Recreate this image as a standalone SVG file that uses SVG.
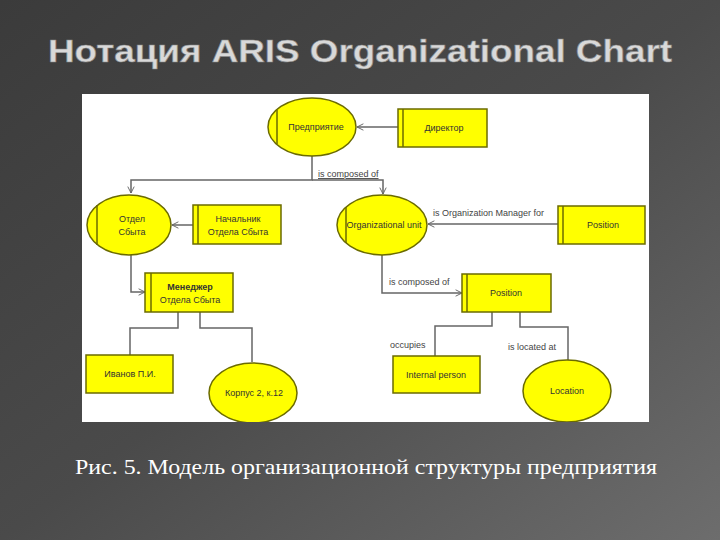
<svg xmlns="http://www.w3.org/2000/svg" width="720" height="540" viewBox="0 0 720 540">
<defs>
<linearGradient id="bg" x1="0" y1="0" x2="1" y2="1"><stop offset="0" stop-color="#3b3b3b"/><stop offset="0.5" stop-color="#4a4a4a"/><stop offset="1" stop-color="#6d6d6d"/></linearGradient>
<marker id="ar" viewBox="0 0 10 10" refX="9" refY="5" markerWidth="8" markerHeight="8" orient="auto-start-reverse" markerUnits="userSpaceOnUse"><path d="M1,1 L9,5 L1,9" fill="none" stroke="#666" stroke-width="1.2"/></marker>
<clipPath id="panel"><rect x="82" y="94" width="567" height="328"/></clipPath>
<style>
.n{fill:#ffff00;stroke:#6b6b00;stroke-width:1.5}
.b{stroke:#6b6b00;stroke-width:1.5}
.t{font-family:"Liberation Sans",Arial,sans-serif;font-size:9px;fill:#333;text-anchor:middle}
.l{font-family:"Liberation Sans",Arial,sans-serif;font-size:9px;fill:#444}
.c{fill:none;stroke:#666;stroke-width:1.5}
</style>
</defs>
<rect width="720" height="540" fill="url(#bg)"/>
<text x="48" y="62" textLength="624" lengthAdjust="spacingAndGlyphs" font-family="Liberation Sans,Arial,sans-serif" font-weight="bold" font-size="31" fill="#d9d9d9" stroke="#8a8a8a" stroke-width="0.6">Нотация ARIS Organizational Chart</text>
<rect x="82" y="94" width="567" height="328" fill="#ffffff"/>
<g clip-path="url(#panel)">
<g id="connectors">
<path class="c" d="M398,127 H357" marker-end="url(#ar)"/>
<path class="c" d="M312,156 V180 H131 V193" marker-end="url(#ar)"/>
<path class="c" d="M312,180 H383 V194" marker-end="url(#ar)"/>
<path class="c" d="M193,225 H172" marker-end="url(#ar)"/>
<path class="c" d="M131,255 V292 H145" marker-end="url(#ar)"/>
<path class="c" d="M178,312 V328 H130 V355"/>
<path class="c" d="M200,312 V328 H252 V362"/>
<path class="c" d="M558,224 H428" marker-end="url(#ar)"/>
<path class="c" d="M382,255 V293 H462" marker-end="url(#ar)"/>
<path class="c" d="M492,312 V326 H435 V356"/>
<path class="c" d="M520,312 V327 H568 V360"/>
<text class="l" x="318" y="177" text-decoration="underline">is composed of</text>
<text class="l" x="433" y="216">is Organization Manager for</text>
<text class="l" x="389" y="285">is composed of</text>
<text class="l" x="390" y="348">occupies</text>
<text class="l" x="508" y="350">is located at</text>
</g>
<g id="predpriyatie"><ellipse class="n" cx="312" cy="127" rx="44" ry="29"/><line class="b" x1="277" y1="110" x2="277" y2="144"/><text class="t" x="316" y="130">Предприятие</text></g>
<g id="direktor"><rect class="n" x="398" y="109" width="89" height="38"/><line class="b" x1="403" y1="109" x2="403" y2="147"/><text class="t" x="444" y="131">Директор</text></g>
<g id="otdel"><ellipse class="n" cx="129" cy="225" rx="42" ry="30"/><line class="b" x1="97" y1="205" x2="97" y2="245"/><text class="t" x="132" y="222">Отдел</text><text class="t" x="132" y="235">Сбыта</text></g>
<g id="nachalnik"><rect class="n" x="193" y="205" width="88" height="39"/><line class="b" x1="198" y1="205" x2="198" y2="244"/><text class="t" x="238" y="222">Начальник</text><text class="t" x="238" y="235">Отдела Сбыта</text></g>
<g id="menedzher"><rect class="n" x="145" y="273" width="88" height="39"/><line class="b" x1="151" y1="273" x2="151" y2="312"/><text class="t" x="190" y="290" font-weight="bold">Менеджер</text><text class="t" x="190" y="303">Отдела Сбыта</text></g>
<g id="ivanov"><rect class="n" x="86" y="355" width="87" height="38"/><text class="t" x="130" y="377">Иванов П.И.</text></g>
<g id="korpus"><ellipse class="n" cx="253" cy="393" rx="44" ry="30"/><text class="t" x="254" y="396">Корпус 2, к.12</text></g>
<g id="orgunit"><ellipse class="n" cx="382" cy="225" rx="45" ry="30"/><line class="b" x1="346" y1="207" x2="346" y2="243"/><text class="t" x="384" y="228">Organizational unit</text></g>
<g id="position1"><rect class="n" x="558" y="206" width="87" height="38"/><line class="b" x1="563" y1="206" x2="563" y2="244"/><text class="t" x="603" y="228">Position</text></g>
<g id="position2"><rect class="n" x="462" y="274" width="89" height="38"/><line class="b" x1="467" y1="274" x2="467" y2="312"/><text class="t" x="506" y="296">Position</text></g>
<g id="internal"><rect class="n" x="393" y="356" width="87" height="37"/><text class="t" x="436" y="378">Internal person</text></g>
<g id="location"><ellipse class="n" cx="567" cy="391" rx="44" ry="31"/><text class="t" x="567" y="394">Location</text></g>
</g>
<text x="75" y="474" textLength="582" lengthAdjust="spacingAndGlyphs" font-family="Liberation Serif,Times New Roman,serif" font-size="21" fill="#ffffff">Рис. 5. Модель организационной структуры предприятия</text>
</svg>
